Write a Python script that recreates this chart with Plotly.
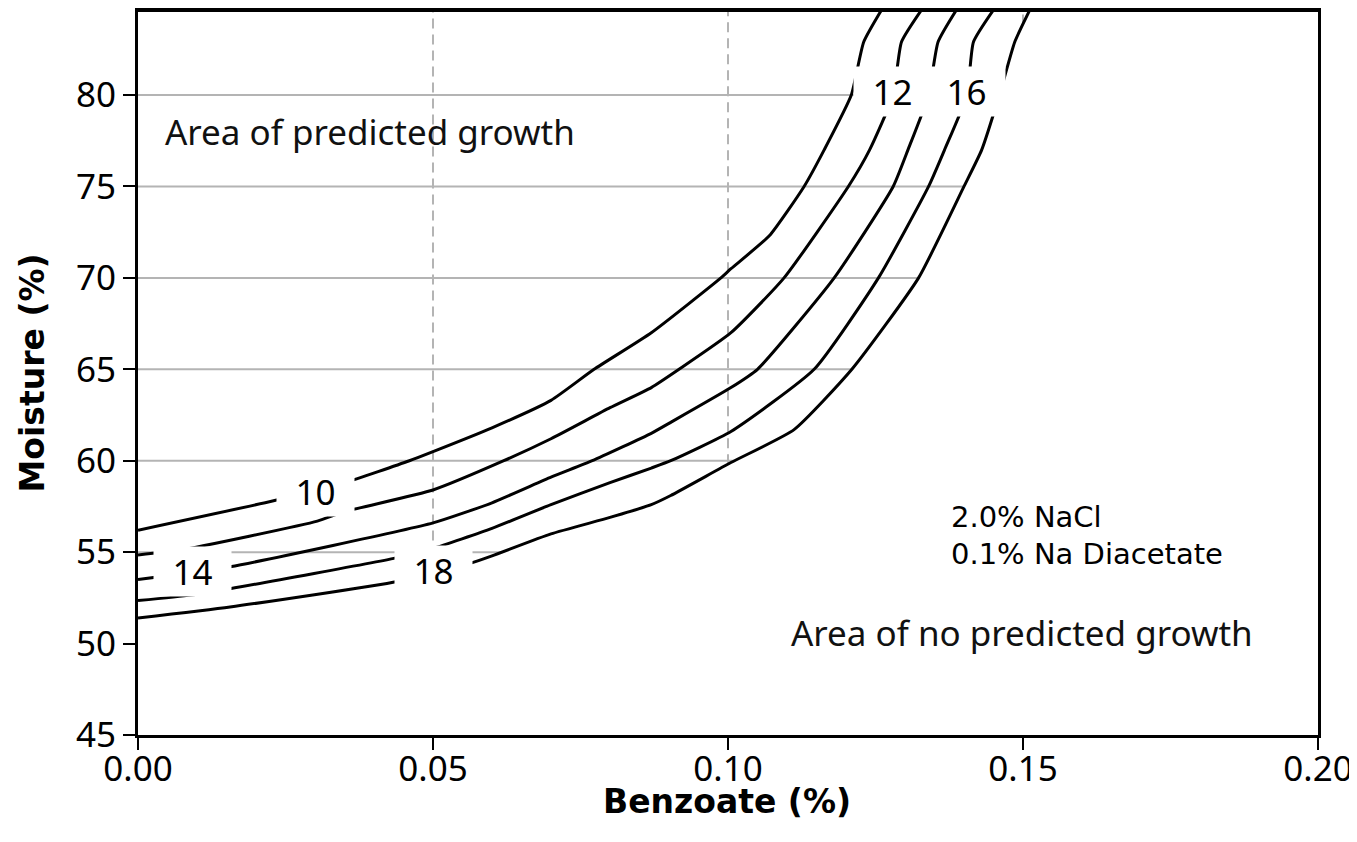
import numpy as np
import plotly.graph_objects as go

# contour lines: benzoate (%) vs moisture (%)
c10_x = [0, 0.0228, 0.035, 0.046, 0.05, 0.06, 0.07, 0.0773, 0.087, 0.0988, 0.1005, 0.107, 0.1129, 0.1163, 0.1209, 0.123, 0.1262]
c10_y = [56.2, 57.8, 58.8, 60.0, 60.5, 61.8, 63.3, 65.0, 67.0, 70.0, 70.5, 72.3, 75.0, 77.0, 80.0, 82.9, 84.75]

c12_x = [0, 0.007, 0.0304, 0.0348, 0.05, 0.062, 0.07, 0.08, 0.087, 0.0917, 0.1005, 0.1095, 0.1204, 0.124, 0.128, 0.1294, 0.133]
c12_y = [54.85, 55.1, 56.7, 57.2, 58.4, 60.0, 61.2, 62.9, 64.0, 65.0, 67.0, 70.0, 75.0, 77.0, 80.0, 82.9, 84.75]

c14_x = [0, 0.0156, 0.05, 0.06, 0.07, 0.077, 0.087, 0.0903, 0.1005, 0.105, 0.118, 0.128, 0.1305, 0.134, 0.1356, 0.1389]
c14_y = [53.5, 54.2, 56.6, 57.7, 59.1, 60.0, 61.5, 62.1, 64.0, 65.0, 70.0, 75.0, 77.0, 80.0, 82.9, 84.75]

c16_x = [0, 0.0089, 0.0156, 0.044, 0.05, 0.06, 0.07, 0.08, 0.087, 0.0903, 0.1005, 0.1146, 0.1255, 0.134, 0.1367, 0.1405, 0.1416, 0.1452]
c16_y = [52.35, 52.65, 53.0, 54.7, 55.2, 56.3, 57.6, 58.8, 59.6, 60.0, 61.6, 65.0, 70.0, 75.0, 77.0, 80.0, 82.9, 84.75]

c18_x = [0, 0.0156, 0.044, 0.0564, 0.06, 0.07, 0.08, 0.087, 0.0903, 0.1005, 0.1112, 0.121, 0.1323, 0.140, 0.143, 0.146, 0.1486, 0.1513]
c18_y = [51.4, 52.0, 53.4, 54.4, 54.8, 56.0, 56.9, 57.6, 58.1, 59.9, 61.7, 65.0, 70.0, 75.0, 77.0, 80.0, 82.9, 84.75]

curves = [(c10_x, c10_y), (c12_x, c12_y), (c14_x, c14_y), (c16_x, c16_y), (c18_x, c18_y)]

# contour labels
lab_text = ['10', '12', '14', '16', '18']
lab_x = [0.0300, 0.1278, 0.0093, 0.1404, 0.0501]
lab_y = [58.33, 80.19, 53.96, 80.19, 54.02]

x_ticks = [0.00, 0.05, 0.10, 0.15, 0.20]
y_ticks = [45, 50, 55, 60, 65, 70, 75, 80]
h_grid = [55, 60, 65, 70, 75, 80]
v_grid = [0.05, 0.10, 0.15]
y_top = 84.65

GRID = '#b4b4b4'
FONT = 'Noto Sans'
SP = '\u2002'

fig = go.Figure()

# grid only drawn in the growth region, i.e. left of / above the 18 line
for lv in h_grid:
    xe = float(np.interp(lv, c18_y, c18_x))
    fig.add_trace(go.Scatter(x=[0, xe], y=[lv, lv], mode='lines',
                             line=dict(color=GRID, width=2), hoverinfo='skip'))
for xv in v_grid:
    ye = float(np.interp(xv, c18_x, c18_y))
    fig.add_trace(go.Scatter(x=[xv, xv], y=[ye, 86], mode='lines',
                             line=dict(color=GRID, width=2, dash='10px,6px'), hoverinfo='skip'))

for cx, cy in curves:
    fig.add_trace(go.Scatter(x=cx, y=cy, mode='lines',
                             line=dict(color='black', width=3, shape='spline', smoothing=0.5),
                             hoverinfo='skip'))

for t, lx, ly in zip(lab_text, lab_x, lab_y):
    fig.add_annotation(x=lx, y=ly, text=SP + t + SP, showarrow=False,
                       font=dict(family=FONT, size=35, color='black'),
                       bgcolor='white', borderpad=1)

fig.add_annotation(x=0.0042, y=78.03, text='Area of predicted growth', showarrow=False,
                   xanchor='left', font=dict(family=FONT, size=35, color='#111'))
fig.add_annotation(x=0.1893, y=50.63, text='Area of no predicted growth', showarrow=False,
                   xanchor='right', font=dict(family=FONT, size=35, color='#111'))
fig.add_annotation(x=0.1374, y=56.92, text='2.0% NaCl', showarrow=False,
                   xanchor='left', font=dict(family='DejaVu Sans', size=29, color='black'))
fig.add_annotation(x=0.1374, y=54.9, text='0.1% Na Diacetate', showarrow=False,
                   xanchor='left', font=dict(family='DejaVu Sans', size=29, color='black'))

# axis titles
fig.add_annotation(x=0.499, y=-0.092, xref='paper', yref='paper', text='<b>Benzoate (%)</b>',
                   showarrow=False, yanchor='middle',
                   font=dict(family='DejaVu Sans', size=33, color='black'))
fig.add_annotation(x=-0.089, y=0.50, xref='paper', yref='paper', text='<b>Moisture (%)</b>',
                   showarrow=False, textangle=-90, xanchor='center', yanchor='middle',
                   font=dict(family='DejaVu Sans', size=33, color='black'))

# thick top border
fig.add_shape(type='line', xref='paper', yref='paper', x0=0, x1=1, y0=1, y1=1,
              line=dict(color='black', width=4))

# the page body adds 8px around the figure, so the figure is 8px smaller
fig.update_layout(
    width=1349, height=834,
    margin=dict(l=130, r=39, t=2, b=107, autoexpand=False),
    paper_bgcolor='white', plot_bgcolor='white',
    showlegend=False,
    font=dict(family=FONT, color='black'),
)
fig.update_xaxes(range=[0, 0.2], tickvals=x_ticks, ticktext=['%.2f' % v for v in x_ticks],
                 showgrid=False, zeroline=False, showline=True, linecolor='black', linewidth=3,
                 mirror=True, ticks='outside', ticklen=12, tickwidth=2, tickcolor='black',
                 tickfont=dict(family=FONT, size=35), automargin=False, ticklabelstandoff=-11)
fig.update_yaxes(range=[45, y_top], tickvals=y_ticks,
                 showgrid=False, zeroline=False, showline=True, linecolor='black', linewidth=3,
                 mirror=True, ticks='outside', ticklen=12, tickwidth=2, tickcolor='black',
                 tickfont=dict(family=FONT, size=35), automargin=False)

fig.write_html("out.html")
